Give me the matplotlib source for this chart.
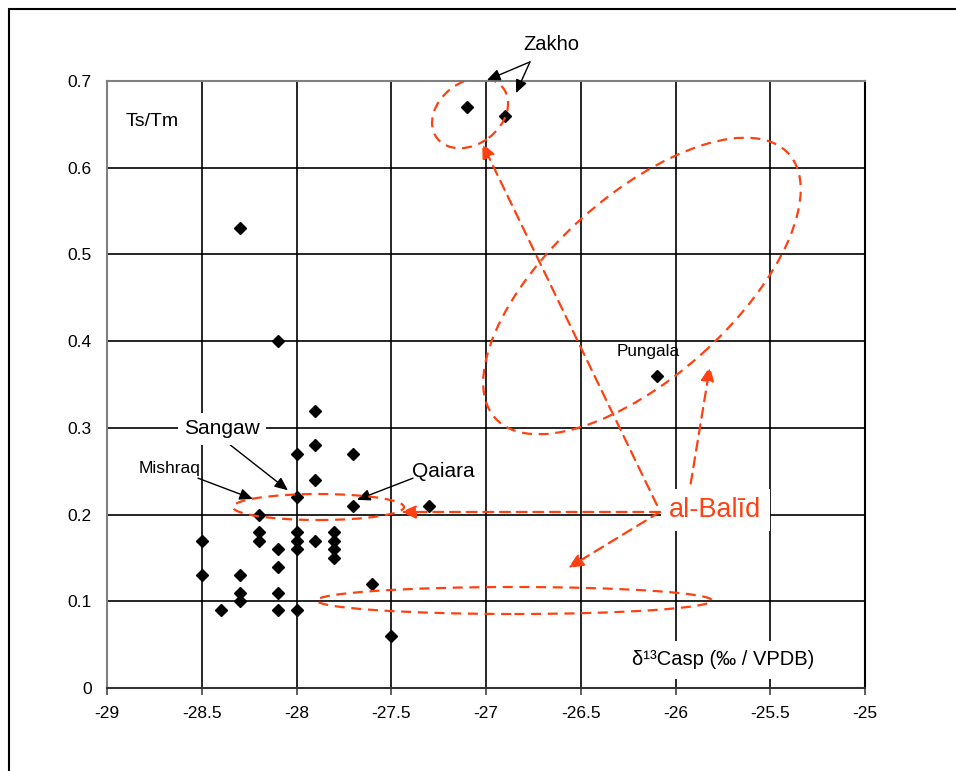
import matplotlib
matplotlib.use('Agg')
import matplotlib.pyplot as plt
from matplotlib.patches import Ellipse, Rectangle
from matplotlib.transforms import ScaledTranslation

plt.rcParams['font.family'] = ['Liberation Sans', 'DejaVu Sans']

# d13C of aspartic acid (per mil VPDB) against Ts/Tm ratio
d13c = [-28.5, -28.5, -28.4, -28.3, -28.3, -28.3, -28.3, -28.2, -28.2, -28.2,
        -28.1, -28.1, -28.1, -28.1, -28.1, -28.0, -28.0, -28.0, -28.0, -28.0,
        -28.0, -27.9, -27.9, -27.9, -27.9, -27.8, -27.8, -27.8, -27.8, -27.7,
        -27.7, -27.6, -27.5, -27.3, -27.1, -26.9, -26.1]
ts_tm = [0.17, 0.13, 0.09, 0.53, 0.13, 0.11, 0.10, 0.20, 0.18, 0.17,
         0.40, 0.16, 0.14, 0.11, 0.09, 0.27, 0.22, 0.18, 0.17, 0.16,
         0.09, 0.32, 0.28, 0.24, 0.17, 0.18, 0.17, 0.16, 0.15, 0.27,
         0.21, 0.12, 0.06, 0.21, 0.67, 0.66, 0.36]

x_ticks = [-29, -28.5, -28, -27.5, -27, -26.5, -26, -25.5, -25]
x_ticklabels = ['-29', '-28.5', '-28', '-27.5', '-27', '-26.5', '-26', '-25.5', '-25']
y_ticks = [0, 0.1, 0.2, 0.3, 0.4, 0.5, 0.6, 0.7]
y_ticklabels = ['0', '0.1', '0.2', '0.3', '0.4', '0.5', '0.6', '0.7']

red = '#ff4010'
dash = (0, (4.5, 3))

fig = plt.figure(figsize=(9.56, 7.71), dpi=100)
ax = fig.add_axes([107 / 956, 83 / 771, 758 / 956, 607 / 771])

# outer frame around the whole figure
fig.patches.append(Rectangle((9 / 956, -0.1), 1.2, 1.1 - 9 / 771,
                             transform=fig.transFigure, fill=False,
                             ec='black', lw=1.5))

ax.plot(d13c, ts_tm, ls='none', marker='D', ms=6.5, color='black', zorder=3)

ax.set_xlim(-29, -25)
ax.set_ylim(0, 0.7)
ax.set_xticks(x_ticks)
ax.set_xticklabels(x_ticklabels)
ax.set_yticks(y_ticks)
ax.set_yticklabels(y_ticklabels)
ax.grid(True, color='black', lw=1.2)
ax.set_axisbelow(True)
ax.tick_params(axis='y', length=0, pad=11, labelsize=12.5)
ax.tick_params(axis='x', length=5, width=1.2, pad=8, labelsize=12.5, color='#444')
ax.spines['left'].set_color('#808080')
ax.spines['top'].set_color('#808080')
ax.spines['bottom'].set_color('#333333')
ax.spines['right'].set_color('black')
for s in ax.spines.values():
    s.set_linewidth(1.5)

# axis titles placed inside the plot
ax.text(-28.763, 0.653, 'Ts/Tm', fontsize=14, ha='center', va='center')
ax.text(-25.75, 0.0323, 'δ¹³Casp (‰ / VPDB)',
        fontsize=14.5, ha='center', va='center', zorder=4,
        bbox=dict(boxstyle='square,pad=0.45', fc='white', ec='none'))

# site labels with black arrows
black_arrow = dict(arrowstyle='-|>,head_length=0.8,head_width=0.35', color='black',
                   lw=1, mutation_scale=10, shrinkA=0, shrinkB=0)
ax.text(-26.657, 0.7416, 'Zakho', fontsize=14.5, ha='center', va='center',
        clip_on=False)
ax.annotate('', xy=(-26.995, 0.701), xytext=(-26.768, 0.722),
            arrowprops=black_arrow, annotation_clip=False)
ax.annotate('', xy=(-26.842, 0.686), xytext=(-26.768, 0.722),
            arrowprops=black_arrow, annotation_clip=False)

ax.text(-28.393, 0.2987, 'Sangaw', fontsize=15, ha='center', va='center', zorder=4,
        bbox=dict(boxstyle='square,pad=0.3', fc='white', ec='none'))
ax.annotate('', xy=(-28.045, 0.228), xytext=(-28.377, 0.285), arrowprops=black_arrow)

ax.text(-28.668, 0.2526, 'Mishraq', fontsize=12.5, ha='center', va='center')
ax.annotate('', xy=(-28.23, 0.218), xytext=(-28.52, 0.242), arrowprops=black_arrow)

ax.text(-27.227, 0.250, 'Qaiara', fontsize=15, ha='center', va='center')
ax.annotate('', xy=(-27.681, 0.217), xytext=(-27.385, 0.242), arrowprops=black_arrow)

ax.text(-26.145, 0.3875, 'Pungala', fontsize=12.3, ha='center', va='center')


def dashed_ellipse(cx, cy, w_px, h_px, angle=0):
    # ellipse sized in pixels, centred on a data point
    tr = fig.dpi_scale_trans + ScaledTranslation(cx, cy, ax.transData)
    ax.add_patch(Ellipse((0, 0), w_px / 100, h_px / 100, angle=angle,
                         transform=tr, fill=False, ec=red, lw=1.6, ls=dash,
                         zorder=4))


dashed_ellipse(-27.084, 0.663, 83, 62, angle=37)
dashed_ellipse(-26.177, 0.4636, 395, 181, angle=42)
dashed_ellipse(-27.884, 0.2087, 171, 26)
dashed_ellipse(-26.850, 0.1009, 395, 27)

# al-Balid label pointing to its groupings
red_arrow = dict(arrowstyle='-|>,head_length=0.8,head_width=0.35', color=red,
                 lw=1.6, ls=dash, mutation_scale=11, shrinkA=0, shrinkB=0)
ax.annotate('', xy=(-27.021, 0.6285), xytext=(-26.098, 0.211), arrowprops=red_arrow)
ax.annotate('', xy=(-25.818, 0.3713), xytext=(-25.934, 0.2168), arrowprops=red_arrow)
ax.annotate('', xy=(-27.449, 0.203), xytext=(-26.082, 0.203), arrowprops=red_arrow)
ax.annotate('', xy=(-26.567, 0.1384), xytext=(-26.082, 0.203), arrowprops=red_arrow)
ax.text(-25.79, 0.205, 'al-Balīd', fontsize=19.5, color=red, ha='center',
        va='center', zorder=5,
        bbox=dict(boxstyle='square,pad=0.3', fc='white', ec='none'))

ax.set_xlim(-29, -25)
ax.set_ylim(0, 0.7)

fig.savefig('out.png', dpi=100)
